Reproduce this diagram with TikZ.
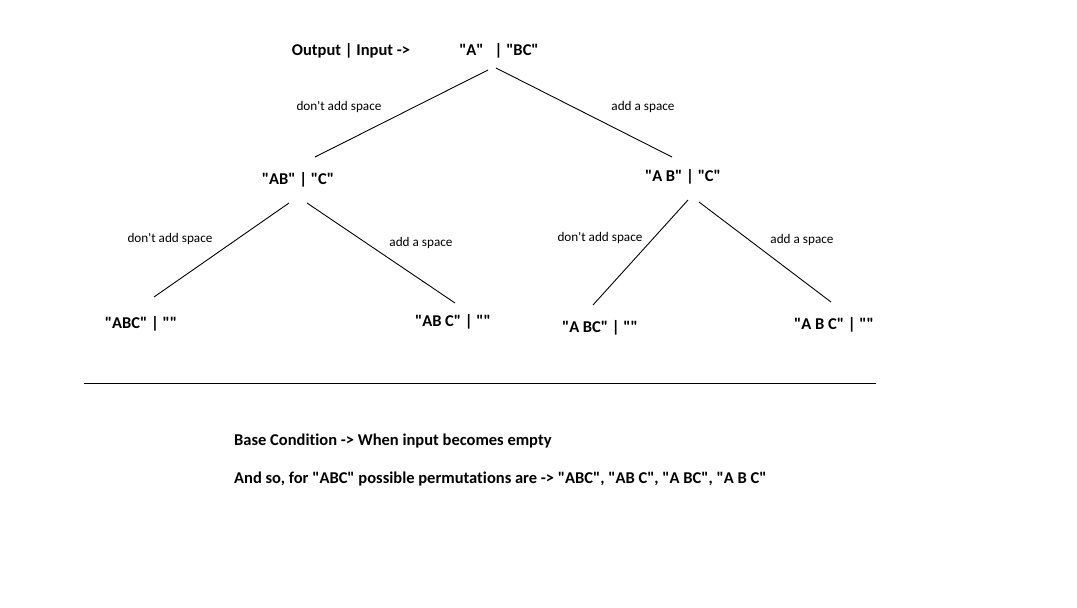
\documentclass[tikz,border=0pt]{standalone}
\usepackage{fontspec}
\setmainfont{Carlito}[Ligatures={TeXOff,NoCommon}]
\usepackage{tikz}
\usetikzlibrary{calc}

\begin{document}
\begin{tikzpicture}[
  x=1pt, y=-1pt,
  state/.style={inner sep=0pt, font=\fontsize{16.5}{20}\selectfont\bfseries},
  choice/.style={inner sep=0pt, font=\fontsize{13.2}{16}\selectfont},
  note/.style={inner sep=0pt, anchor=west, font=\fontsize{16.5}{20}\selectfont\bfseries},
  branch/.style={draw=black, line width=0.9pt},
]
\useasboundingbox (0,0) rectangle (1077,608);

% top row
\node[state] (head) at (351,51) {Output | Input ->};
\node[state] (root) at (499,51) {"A"\hspace{11pt}|\ "BC"};

% second row
\node[state] (ab) at (298,180) {"AB" | "C"};
\node[state] (asb) at (683,177) {"A B" | "C"};

% leaves
\node[state] (abc) at (141,324) {"ABC" | ""};
\node[state] (absc) at (453,322) {"AB C" | ""};
\node[state] (asbc) at (600,328) {"A BC" | ""};
\node[state] (asbsc) at (834,325) {"A B C" | ""};

% branches
\draw[branch] ($(root)+(-11,19)$) -- ($(ab)+(17,-23)$);
\draw[branch] ($(root)+(-3,17)$) -- ($(asb)+(-11,-20)$);
\draw[branch] ($(ab)+(-9,23)$) -- ($(abc)+(13,-27)$);
\draw[branch] ($(ab)+(9,23)$) -- ($(absc)+(2,-19)$);
\draw[branch] ($(asb)+(5,23)$) -- ($(asbc)+(-7,-23)$);
\draw[branch] ($(asb)+(16,25)$) -- ($(asbsc)+(-3,-23)$);

% branch labels
\node[choice] (c1) at (339,107) {don't add space};
\node[choice] (c2) at (643,107) {add a space};
\node[choice] (c3) at (170,239) {don't add space};
\node[choice] (c4) at (421,243) {add a space};
\node[choice] (c5) at (600,238) {don't add space};
\node[choice] (c6) at (802,240) {add a space};

% separator
\draw[branch] (84,383) -- (876,383);

% notes
\node[note] (base) at (234,441) {Base Condition -> When input becomes empty};
\node[note] (result) at (234,479) {And so, for "ABC" possible permutations are -> "ABC", "AB C", "A BC", "A B C"};
\end{tikzpicture}
\end{document}
